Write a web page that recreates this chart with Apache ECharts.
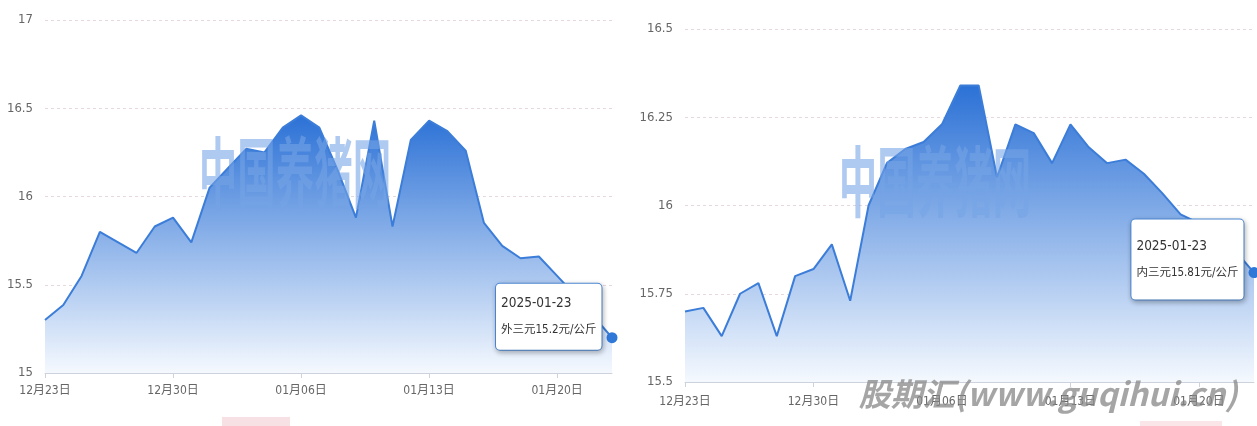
<!DOCTYPE html>
<html>
<head>
<meta charset="utf-8">
<script src="https://cdn.jsdelivr.net/npm/echarts@6/dist/echarts.min.js"></script>
<style>
html,body{margin:0;padding:0;background:#fff;}
#main{width:1257px;height:426px;}
</style>
</head>
<body>
<div id="main"></div>
<script>
// ---- data ----
var dates = ['2024-12-23','2024-12-24','2024-12-25','2024-12-26','2024-12-27','2024-12-28','2024-12-29','2024-12-30','2024-12-31',
  '2025-01-01','2025-01-02','2025-01-03','2025-01-04','2025-01-05','2025-01-06','2025-01-07','2025-01-08','2025-01-09','2025-01-10',
  '2025-01-11','2025-01-12','2025-01-13','2025-01-14','2025-01-15','2025-01-16','2025-01-17','2025-01-18','2025-01-19','2025-01-20',
  '2025-01-21','2025-01-22','2025-01-23'];
var waiSanYuan = [15.30,15.385,15.55,15.80,15.74,15.68,15.83,15.88,15.74,16.05,16.16,16.27,16.25,16.39,16.46,16.39,16.15,15.88,16.43,15.83,
  16.32,16.43,16.37,16.26,15.85,15.72,15.65,15.66,15.55,15.44,15.32,15.20];
var neiSanYuan = [15.70,15.71,15.63,15.75,15.78,15.63,15.80,15.82,15.89,15.73,16.00,16.12,16.16,16.18,16.23,16.34,16.34,16.08,16.23,16.205,
  16.12,16.23,16.165,16.12,16.13,16.09,16.035,15.975,15.95,15.93,15.87,15.81];
var seriesNames = ['外三元','内三元'];
var leftTicks = {min:15, max:17, interval:0.5};
var rightTicks = {min:15.5, max:16.5, interval:0.25};
var unit = '元/公斤';

var FONT = "'Liberation Sans Narrow','DejaVu Sans Condensed','Noto Sans CJK SC',sans-serif";

function fmtDate(v){ return v.slice(5,7) + '月' + v.slice(8,10) + '日'; }

function buildData(vals, name, labelOffsetY, padV){
  return vals.map(function(v, i){
    if (i !== vals.length - 1) return v;
    return {
      value: v,
      symbol: 'circle',
      symbolSize: 11,
      itemStyle: {color: '#2f78d8'},
      label: {
        show: true,
        position: 'left',
        distance: 5,
        offset: [0, labelOffsetY],
        backgroundColor: '#fff',
        borderColor: '#4f8ddc',
        borderWidth: 1,
        borderRadius: 4,
        padding: [padV, 5],
        shadowColor: 'rgba(0,0,0,0.25)',
        shadowBlur: 5,
        shadowOffsetX: 1,
        shadowOffsetY: 2,
        formatter: function(p){
          return '{d|' + p.name + '}\n{v|' + name + p.value + unit + '}';
        },
        rich: {
          d: {align: 'left', fontSize: 13.5, lineHeight: 26, color: '#333', fontFamily: FONT},
          v: {align: 'left', fontSize: 11.5, lineHeight: 26, color: '#333', fontFamily: FONT}
        }
      }
    };
  });
}

function xAxisCfg(idx){
  return {
    type: 'category', gridIndex: idx, data: dates, boundaryGap: false,
    axisLine: {lineStyle: {color: '#cdd3dc'}},
    axisTick: {show: true, interval: 6, length: 5, lineStyle: {color: '#cdd3dc'}},
    axisLabel: {interval: 6, formatter: fmtDate, color: '#666', fontSize: 12, margin: idx === 0 ? 12 : 14, fontFamily: FONT}
  };
}
function yAxisCfg(idx, t){
  return {
    type: 'value', gridIndex: idx, min: t.min, max: t.max, interval: t.interval,
    axisLine: {show: false}, axisTick: {show: false},
    axisLabel: {color: '#666', fontSize: 13, margin: 12, fontFamily: FONT},
    splitLine: {lineStyle: {color: '#e6d9dd', type: [3, 3]}}
  };
}
function areaGrad(){
  return new echarts.graphic.LinearGradient(0, 0, 0, 1, [
    {offset: 0, color: '#2b71d6'},
    {offset: 1, color: '#f5f9fe'}
  ]);
}

var chart = echarts.init(document.getElementById('main'), null, {renderer: 'canvas'});
chart.setOption({
  animation: false,
  backgroundColor: '#fff',
  textStyle: {fontFamily: FONT},
  grid: [
    {left: 45, top: 20, width: 567, height: 353},
    {left: 685, top: 29, width: 569, height: 353}
  ],
  xAxis: [xAxisCfg(0), xAxisCfg(1)],
  yAxis: [yAxisCfg(0, leftTicks), yAxisCfg(1, rightTicks)],
  series: [
    {
      name: seriesNames[0], type: 'line', xAxisIndex: 0, yAxisIndex: 0,
      symbol: 'none', showSymbol: true, showAllSymbol: true,
      lineStyle: {color: '#3b7dd8', width: 2},
      areaStyle: {color: areaGrad(), opacity: 1},
      emphasis: {disabled: true},
      data: buildData(waiSanYuan, seriesNames[0], -21, 7),
      z: 2
    },
    {
      name: seriesNames[1], type: 'line', xAxisIndex: 1, yAxisIndex: 1,
      symbol: 'none', showSymbol: true, showAllSymbol: true,
      lineStyle: {color: '#3b7dd8', width: 2},
      areaStyle: {color: areaGrad(), opacity: 1},
      emphasis: {disabled: true},
      data: buildData(neiSanYuan, seriesNames[1], -13, 14),
      z: 2
    }
  ],
  graphic: [
    {
      type: 'text', x: 295, y: 173, scaleX: 0.5, z: 100, silent: true,
      style: {text: '中国养猪网', font: "bold 77px 'Noto Sans CJK SC'", fill: 'rgba(118,164,230,0.58)',
        textAlign: 'center', textVerticalAlign: 'middle'}
    },
    {
      type: 'text', x: 935, y: 182, scaleX: 0.5, z: 100, silent: true,
      style: {text: '中国养猪网', font: "bold 77px 'Noto Sans CJK SC'", fill: 'rgba(118,164,230,0.58)',
        textAlign: 'center', textVerticalAlign: 'middle'}
    },
    {
      type: 'text', x: 1048, y: 394, z: 100, silent: true,
      style: {text: '股期汇(www.guqihui.cn)', font: "italic bold 32px 'Noto Sans CJK SC'", fill: 'rgba(135,135,135,0.75)',
        textAlign: 'center', textVerticalAlign: 'middle'}
    },
    {
      type: 'rect', silent: true, z: 1,
      shape: {x: 222, y: 417, width: 68, height: 9},
      style: {fill: 'rgba(236,170,180,0.35)'}
    },
    {
      type: 'rect', silent: true, z: 1,
      shape: {x: 1140, y: 421, width: 82, height: 5},
      style: {fill: 'rgba(240,180,188,0.35)'}
    }
  ]
});
</script>
</body>
</html>
